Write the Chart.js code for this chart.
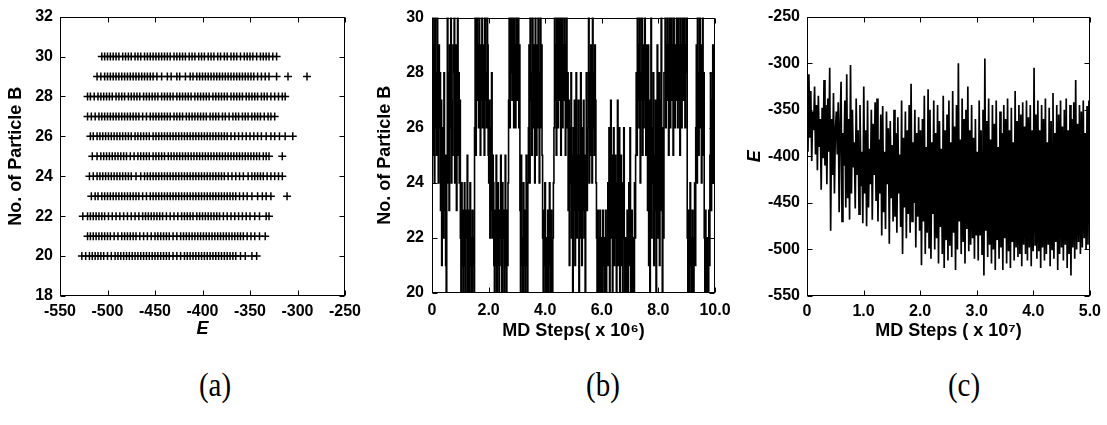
<!DOCTYPE html>
<html>
<head>
<meta charset="utf-8">
<script src="https://cdn.jsdelivr.net/npm/chart.js@4"></script>
<style>
  body { margin: 0; background: #fff; width: 1107px; height: 425px; position: relative; overflow: hidden; }
  canvas { position: absolute; top: 0; }
  .cap { position: absolute; top: 385px; line-height: 1; font-family: 'Liberation Serif', 'Times New Roman', serif;
         font-size: 29px; color: #000; transform: translate(-50%, -50%) scaleY(1.15); }
</style>
</head>
<body>
<canvas id="pa" width="370" height="345" style="left:0px"></canvas>
<canvas id="pb" width="375" height="345" style="left:365px"></canvas>
<canvas id="pc" width="367" height="345" style="left:740px"></canvas>
<div class="cap" style="left:215px">(a)</div>
<div class="cap" style="left:603px">(b)</div>
<div class="cap" style="left:964px">(c)</div>
<script>
// ---- (a) energy of sampled states, grouped by number of B particles ----
const particleCounts = [20, 21, 22, 23, 24, 25, 26, 27, 28, 29, 30];
const eN20 = [-527,-523,-519,-516,-513,-510,-507,-504,-500,-496,-492,-489,-486,-483,-480,-477,-474,-471,-468,-465,-462,-459,-456,-453,-450,-447,-444,-441,-438,-435,-431,-427,-423,-419,-416,-413,-410,-407,-404,-401,-398,-395,-392,-389,-386,-383,-380,-377,-374,-371,-368,-365,-360,-355,-348,-343];
const eN21 = [-521,-518,-515,-512,-509,-506,-503,-500,-497,-493,-489,-485,-482,-479,-476,-473,-470,-466,-462,-458,-454,-450,-447,-444,-441,-438,-435,-431,-427,-423,-420,-417,-414,-411,-408,-405,-402,-399,-396,-393,-390,-387,-384,-381,-378,-375,-372,-369,-366,-363,-360,-357,-353,-349,-345,-340,-334];
const eN22 = [-526,-521,-518,-515,-512,-509,-506,-503,-499,-495,-491,-487,-483,-479,-475,-471,-467,-463,-460,-457,-454,-451,-448,-445,-442,-438,-434,-430,-426,-422,-419,-416,-413,-410,-406,-403,-400,-397,-394,-391,-388,-385,-382,-378,-374,-370,-366,-362,-358,-354,-350,-345,-340,-333,-330];
const eN23 = [-517,-513,-510,-506,-503,-500,-497,-494,-491,-488,-485,-482,-479,-476,-473,-470,-467,-463,-459,-455,-452,-449,-446,-443,-440,-437,-434,-431,-428,-425,-422,-419,-416,-413,-410,-407,-404,-401,-398,-395,-392,-389,-386,-383,-380,-377,-374,-371,-368,-365,-361,-357,-353,-348,-342,-337,-333,-328,-311];
const eN24 = [-519,-515,-511,-508,-505,-502,-499,-496,-493,-490,-487,-484,-481,-478,-475,-470,-465,-461,-458,-455,-452,-449,-446,-443,-440,-437,-434,-431,-428,-425,-422,-419,-416,-413,-410,-407,-404,-401,-398,-395,-392,-389,-386,-383,-380,-377,-373,-369,-365,-361,-357,-352,-348,-345,-342,-339,-336,-332,-328,-324,-320,-316];
const eN25 = [-516,-511,-507,-504,-501,-498,-495,-492,-489,-486,-483,-480,-476,-472,-468,-465,-462,-459,-456,-452,-449,-446,-443,-440,-436,-433,-430,-427,-424,-421,-418,-415,-412,-409,-406,-403,-400,-397,-394,-391,-388,-385,-382,-379,-376,-373,-370,-367,-364,-361,-358,-355,-352,-349,-346,-343,-340,-336,-333,-330,-316];
const eN26 = [-518,-515,-511,-508,-505,-502,-499,-496,-493,-490,-487,-484,-481,-478,-475,-471,-468,-465,-462,-459,-456,-452,-449,-446,-443,-440,-437,-434,-431,-428,-425,-422,-419,-416,-413,-410,-407,-404,-401,-398,-395,-392,-389,-386,-383,-380,-377,-374,-370,-366,-362,-358,-354,-350,-346,-342,-338,-333,-328,-324,-319,-313,-305];
const eN27 = [-521,-517,-513,-509,-506,-503,-500,-497,-494,-491,-488,-485,-482,-479,-476,-473,-470,-467,-463,-459,-455,-452,-449,-446,-443,-440,-437,-434,-430,-427,-424,-421,-417,-414,-411,-408,-405,-402,-399,-396,-392,-389,-386,-383,-379,-376,-372,-368,-365,-362,-358,-355,-352,-348,-345,-342,-339,-335,-331,-328,-324];
const eN28 = [-521,-518,-514,-510,-507,-504,-501,-498,-495,-491,-488,-485,-482,-478,-475,-472,-469,-466,-462,-459,-456,-453,-450,-447,-443,-440,-437,-434,-431,-427,-424,-421,-418,-415,-412,-408,-405,-402,-399,-396,-393,-389,-386,-383,-380,-377,-374,-370,-367,-364,-361,-358,-354,-351,-348,-345,-342,-338,-335,-332,-328,-324,-320,-316,-313];
const eN29 = [-511,-507,-503,-500,-497,-494,-491,-488,-485,-482,-479,-476,-473,-470,-467,-464,-461,-458,-455,-452,-448,-443,-437,-433,-427,-424,-418,-413,-410,-406,-403,-400,-397,-394,-391,-388,-385,-382,-379,-376,-373,-370,-367,-364,-361,-358,-355,-352,-349,-346,-342,-338,-334,-330,-322,-310,-290];
const eN30 = [-506,-503,-500,-497,-494,-491,-488,-484,-481,-478,-475,-471,-468,-465,-461,-458,-455,-452,-449,-446,-443,-440,-437,-434,-430,-427,-424,-421,-418,-414,-411,-408,-404,-401,-398,-394,-391,-388,-384,-381,-377,-374,-370,-367,-364,-360,-356,-353,-350,-347,-343,-339,-336,-333,-330,-326,-322];
const energyRows = [eN20, eN21, eN22, eN23, eN24, eN25, eN26, eN27, eN28, eN29, eN30];

// ---- (b) number of B particles along the MD run (x 10^6 steps) ----
const bRunLength = 10;
const bCounts = [
  27,30,25,29,24,30,26,28,25,30,27,24,29,26,28,
  23,27,21,26,24,22,28,23,25,21,
  20,25,30,24,28,23,29,26,30,24,27,25,29,28,30,24,26,29,23,27,30,25,28,24,27,
  22,20,24,21,23,20,22,24,21,20,23,22,25,20,21,23,20,24,22,21,20,23,21,22,20,
  26,30,25,28,30,27,29,26,30,28,25,29,27,30,26,28,29,25,30,27,28,26,30,29,25,
  24,27,22,26,23,28,22,25,24,21,
  20,23,21,25,20,22,24,21,20,23,22,25,21,20,24,22,23,20,21,25,22,20,23,21,24,
  27,30,26,29,30,28,27,30,29,26,30,28,26,29,30,27,28,30,26,29,
  23,20,25,21,22,20,24,21,23,20,22,25,21,20,24,
  26,29,24,30,27,28,25,30,26,29,27,24,30,28,25,29,26,30,27,24,28,30,26,29,25,
  22,20,23,21,24,20,22,20,21,23,20,22,24,21,20,23,21,20,22,24,
  26,30,27,29,25,30,28,26,30,29,27,30,25,28,30,26,29,27,30,28,25,29,30,26,28,
  23,27,21,26,24,28,22,25,20,26,23,27,21,24,28,22,25,23,27,20,25,22,28,24,21,26,23,27,22,25,20,24,28,23,26,
  26,30,24,28,25,29,27,24,30,26,28,25,29,27,24,
  22,20,23,21,20,22,23,20,21,22,20,23,21,22,20,21,23,20,22,21,
  24,21,26,20,23,27,22,25,20,24,26,21,23,25,22,20,24,27,21,23,26,20,22,25,21,24,20,23,26,22,
  20,22,21,20,23,20,22,24,21,26,20,21,23,20,22,21,20,24,22,25,
  28,25,30,27,29,26,30,24,28,27,30,25,29,26,28,30,27,25,29,28,
  23,29,21,27,20,25,30,22,26,24,28,21,25,23,27,20,26,29,22,24,28,21,27,23,30,25,20,26,22,28,
  28,30,26,29,27,30,28,25,29,30,26,28,30,27,29,25,30,28,26,29,27,30,28,26,30,29,27,25,30,28,26,29,30,27,28,30,26,29,28,30,
  22,20,23,21,20,24,22,21,20,23,21,20,22,24,21,
  26,29,24,30,27,25,28,30,26,29,24,27,30,25,28,
  22,20,23,21,20,22,21,20,23,21,
  25,28,23,27,24,29,26,24,28,25
];

// ---- (c) potential energy along the MD run (x 10^7 steps) ----
const cRunLength = 5;
const cEnergy = [
  -340,-395,-312,-380,-330,-405,-352,-372,-325,-398,-345,-415,-335,-390,-360,-436,-348,-402,-318,-410,
  -345,-430,-338,-395,-305,-480,-360,-420,-332,-440,-372,-352,-398,-342,-460,-365,-320,-470,-375,-410,
  -340,-455,-312,-445,-360,-468,-302,-440,-350,-412,-385,-456,-338,-420,-372,-462,-345,-432,-395,-472,
  -325,-440,-372,-475,-340,-455,-392,-430,-350,-468,-365,-420,-342,-448,-338,-470,-382,-440,-355,-485,
  -346,-460,-395,-478,-352,-430,-370,-494,-362,-445,-388,-470,-350,-465,-375,-482,-358,-440,-398,-476,
  -340,-505,-380,-455,-352,-488,-372,-462,-345,-482,-322,-470,-385,-450,-350,-498,-375,-465,-358,-480,
  -372,-517,-360,-470,-335,-505,-390,-482,-328,-498,-350,-510,-385,-462,-340,-500,-375,-488,-345,-515,
  -362,-476,-392,-505,-335,-520,-372,-490,-355,-512,-340,-496,-385,-508,-330,-482,-368,-522,-345,-500,
  -300,-470,-382,-505,-338,-492,-360,-515,-350,-478,-325,-502,-372,-495,-345,-488,-380,-510,-360,-485,
  -395,-512,-340,-485,-372,-505,-350,-528,-295,-480,-362,-508,-338,-495,-382,-515,-345,-500,-365,-522,
  -340,-490,-390,-510,-352,-498,-375,-522,-345,-488,-360,-515,-338,-502,-372,-520,-348,-492,-385,-512,
  -330,-498,-362,-508,-345,-505,-355,-518,-342,-495,-368,-505,-340,-512,-358,-498,-345,-518,-372,-502,
  -305,-495,-355,-510,-340,-502,-372,-520,-345,-498,-360,-512,-338,-505,-385,-495,-348,-518,-362,-500,
  -332,-510,-375,-492,-345,-522,-355,-505,-340,-498,-368,-512,-350,-495,-338,-520,-372,-505,-345,-528,
  -360,-498,-342,-510,-318,-500,-365,-492,-345,-505,-352,-498,-340,-488,-375,-500,-346,-495,-340,-430
];

const tickFont = { family: "'Liberation Sans', Arial, sans-serif", size: 16, weight: 'bold' };
const titleFont = { family: "'Liberation Sans', Arial, sans-serif", size: 18, weight: 'bold', lineHeight: 1.2 };
const oneDecimal = v => (v === 0 ? '0' : v.toFixed(1));

// Box frame with inward tick marks on all four sides
const frameTicks = {
  id: 'frameTicks',
  afterDatasetsDraw(chart) {
    const { ctx, chartArea: a, scales: { x, y } } = chart;
    const L = Math.round(a.left) + 0.5, R = Math.round(a.right) - 0.5;
    const T = Math.round(a.top) + 0.5, B = Math.round(a.bottom) - 0.5;
    const len = 5;
    ctx.save();
    ctx.strokeStyle = '#000';
    ctx.lineWidth = 1;
    ctx.beginPath();
    x.ticks.forEach(t => {
      const px = Math.round(x.getPixelForValue(t.value)) + 0.5;
      ctx.moveTo(px, B); ctx.lineTo(px, B - len);
      ctx.moveTo(px, T); ctx.lineTo(px, T + len);
    });
    y.ticks.forEach(t => {
      const py = Math.round(y.getPixelForValue(t.value)) + 0.5;
      ctx.moveTo(L, py); ctx.lineTo(L + len, py);
      ctx.moveTo(R, py); ctx.lineTo(R - len, py);
    });
    ctx.stroke();
    ctx.strokeRect(L, T, R - L, B - T);
    ctx.restore();
  }
};

function axes(p) {
  return {
    x: {
      type: 'linear', min: p.xMin, max: p.xMax,
      grid: { display: false, drawTicks: false }, border: { display: false },
      ticks: { stepSize: p.xStep, font: tickFont, color: '#000', padding: p.xPad, maxRotation: 0,
               autoSkip: false, callback: p.xFmt || (v => v) },
      title: { display: true, text: p.xTitle, color: '#000',
               font: Object.assign({}, titleFont, p.xTitleStyle || {}), padding: { top: 0, bottom: p.xTitlePad } },
      afterFit: s => { s.height = p.xHeight; }
    },
    y: {
      type: 'linear', min: p.yMin, max: p.yMax,
      grid: { display: false, drawTicks: false }, border: { display: false },
      ticks: { stepSize: p.yStep, font: tickFont, color: '#000', padding: p.yPad, autoSkip: false },
      title: { display: true, text: p.yTitle, color: '#000',
               font: Object.assign({}, titleFont, p.yTitleStyle || {}), padding: { top: p.yTitlePad, bottom: 0 } },
      afterFit: s => { s.width = p.yWidth; }
    }
  };
}

const common = {
  responsive: false, animation: false, devicePixelRatio: 1,
  plugins: { legend: { display: false }, tooltip: { enabled: false } }
};

// (a) scatter of E against particle count
const scatterPoints = [];
energyRows.forEach((row, i) => row.forEach(e => scatterPoints.push({ x: e, y: particleCounts[i] })));
new Chart(document.getElementById('pa'), {
  type: 'scatter',
  data: { datasets: [{ data: scatterPoints, pointStyle: 'cross', pointRadius: 4,
                       borderColor: '#000', backgroundColor: '#000', borderWidth: 1.5 }] },
  options: Object.assign({}, common, {
    layout: { padding: { top: 12, right: 25, left: 0, bottom: 0 } },
    scales: axes({ xMin: -550, xMax: -250, xStep: 50, xPad: 6, xTitle: 'E', xTitleStyle: { style: 'italic' },
                   xTitlePad: 5, xHeight: 49,
                   yMin: 18, yMax: 32, yStep: 2, yPad: 7, yTitle: 'No. of Particle B', yTitlePad: 5, yWidth: 60 })
  }),
  plugins: [frameTicks]
});

// (b) particle count trace
const bPoints = bCounts.map((n, i) => ({ x: i * bRunLength / (bCounts.length - 1), y: n }));
new Chart(document.getElementById('pb'), {
  type: 'line',
  data: { datasets: [{ data: bPoints, stepped: true, borderColor: '#000', borderWidth: 1.6, pointRadius: 0, fill: false }] },
  options: Object.assign({}, common, {
    layout: { padding: { top: 10, right: 25, left: 0, bottom: 0 } },
    scales: axes({ xMin: 0, xMax: 10, xStep: 2, xPad: 8, xFmt: oneDecimal, xTitle: 'MD Steps( x 10\u2076)',
                   xTitlePad: 3, xHeight: 52,
                   yMin: 20, yMax: 30, yStep: 2, yPad: 8, yTitle: 'No. of Particle B', yTitlePad: 9, yWidth: 67 })
  }),
  plugins: [frameTicks]
});

// (c) energy trace
const cPoints = cEnergy.map((e, i) => ({ x: i * cRunLength / (cEnergy.length - 1), y: e }));
new Chart(document.getElementById('pc'), {
  type: 'line',
  data: { datasets: [{ data: cPoints, borderColor: '#000', borderWidth: 1.7, pointRadius: 0, tension: 0, fill: false }] },
  options: Object.assign({}, common, {
    layout: { padding: { top: 11, right: 15, left: 0, bottom: 0 } },
    scales: axes({ xMin: 0, xMax: 5, xStep: 1, xPad: 6, xFmt: oneDecimal, xTitle: 'MD Steps ( x 10\u2077)',
                   xTitlePad: 3, xHeight: 49,
                   yMin: -550, yMax: -250, yStep: 50, yPad: 7, yTitle: 'E', yTitleStyle: { style: 'italic' },
                   yTitlePad: 4, yWidth: 67 })
  }),
  plugins: [frameTicks]
});
</script>
</body>
</html>
